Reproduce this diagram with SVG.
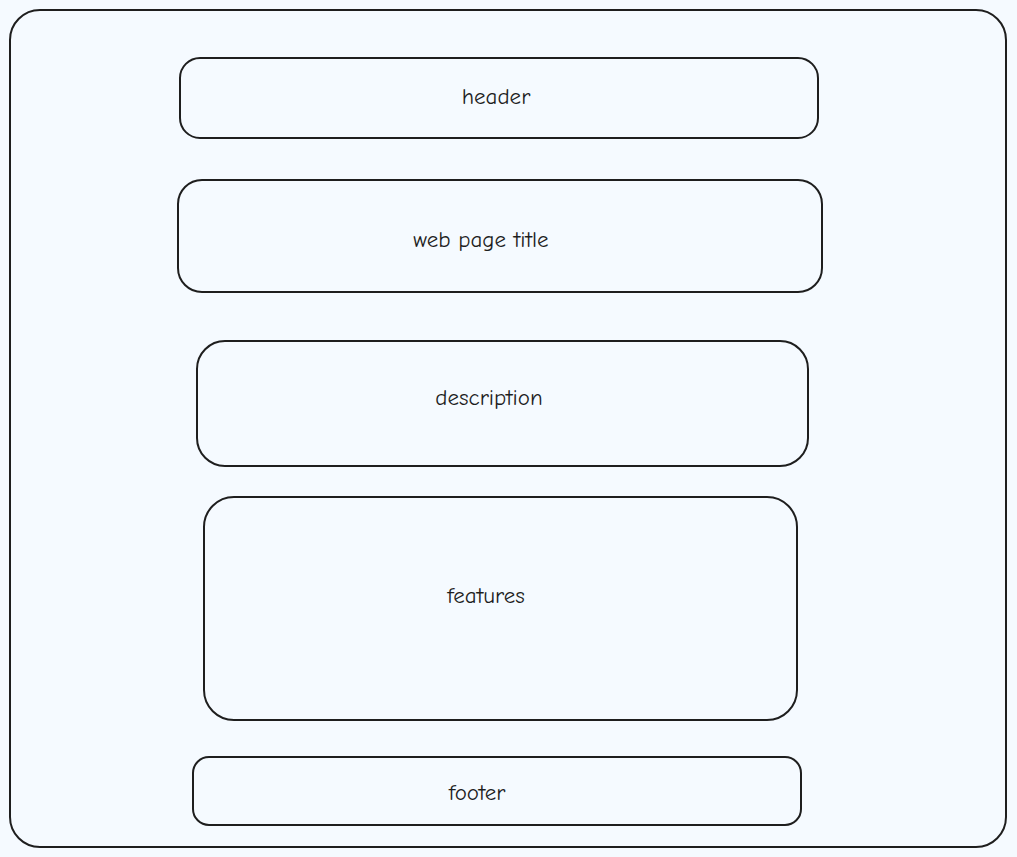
<svg xmlns="http://www.w3.org/2000/svg" width="1017" height="857" viewBox="0 0 1017 857">
<style>
.b{fill:none;stroke:#1e1e1e;stroke-width:2}
.t{font-family:"Comic Neue","Lato","Liberation Sans",sans-serif;font-size:23px;fill:#1e1e1e;text-anchor:middle;dominant-baseline:central}
</style>
<rect width="1017" height="857" fill="#f5faff"/>
<g id="page"><rect class="b" x="10" y="10" width="996" height="837" rx="30"/></g>
<g id="header"><rect class="b" x="180" y="58" width="638" height="80" rx="20"/><text class="t" x="496" y="96">header</text></g>
<g id="title"><rect class="b" x="178" y="180" width="644" height="112" rx="24"/><text class="t" x="481" y="239">web page title</text></g>
<g id="description"><rect class="b" x="197" y="341" width="611" height="125" rx="28"/><text class="t" x="489" y="397">description</text></g>
<g id="features"><rect class="b" x="204" y="497" width="593" height="223" rx="30"/><text class="t" x="486" y="595">features</text></g>
<g id="footer"><rect class="b" x="193" y="757" width="608" height="68" rx="16"/><text class="t" x="477" y="792">footer</text></g>
<g id="connectors"/>
</svg>
